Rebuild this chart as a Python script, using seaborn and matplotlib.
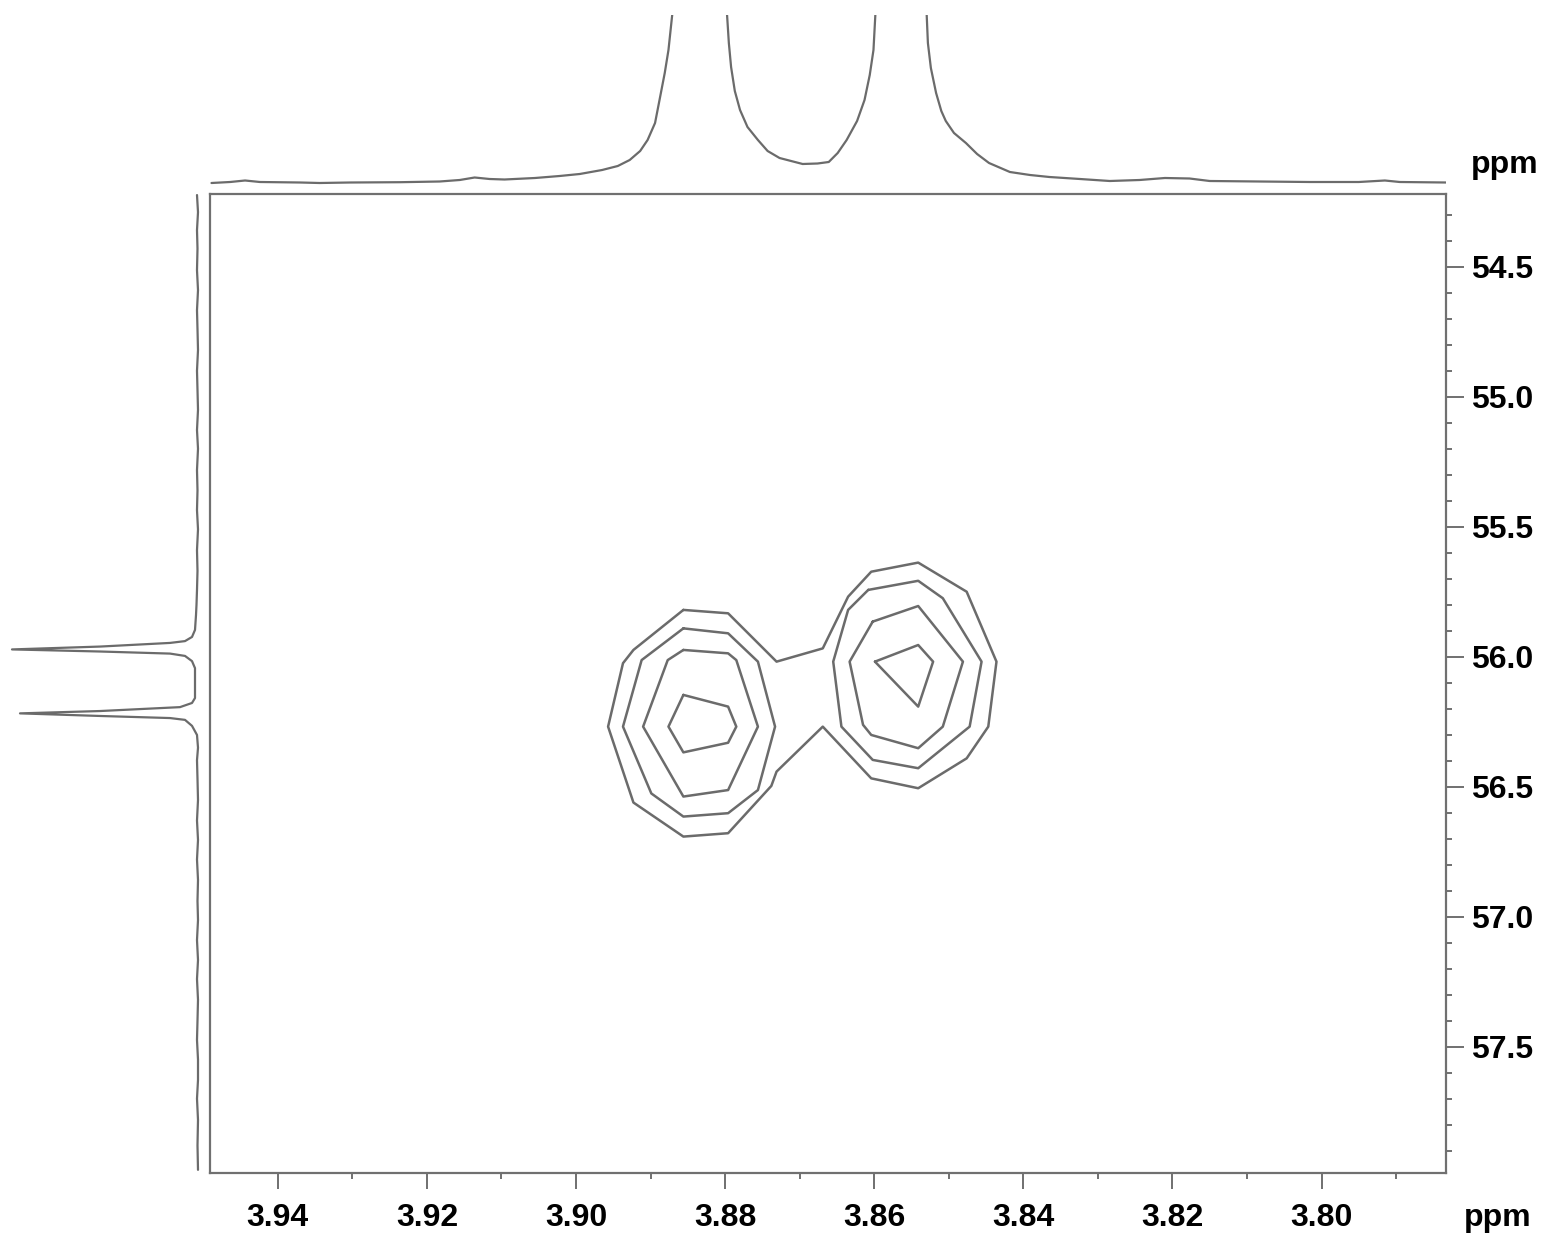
import numpy as np
import matplotlib
matplotlib.use("Agg")
import matplotlib.pyplot as plt
from matplotlib.ticker import MultipleLocator, FormatStrFormatter
import seaborn as sns

sns.set_style("white")
plt.rcParams["font.family"] = ["Liberation Sans", "DejaVu Sans"]

# --- data (ppm) ---

# 1H projection on top: chemical shift and height (arbitrary units)
top_ppm = [3.9489, 3.9464, 3.9444, 3.9424, 3.9370, 3.9344, 3.9303, 3.9236, 3.9183,
           3.9156, 3.9136, 3.9116, 3.9096, 3.9055, 3.9022, 3.8995, 3.8965, 3.8944,
           3.8928, 3.8914, 3.8904, 3.8894, 3.8888, 3.8881, 3.8876, 3.8870, 3.8834,
           3.8798, 3.8795, 3.8792, 3.8787, 3.8780, 3.8770, 3.8756, 3.8743, 3.8727,
           3.8696, 3.8676, 3.8661, 3.8649, 3.8637, 3.8623, 3.8613, 3.8606, 3.8601,
           3.8598, 3.8564, 3.8530, 3.8528, 3.8524, 3.8517, 3.8510, 3.8504, 3.8493,
           3.8477, 3.8462, 3.8446, 3.8418, 3.8391, 3.8365, 3.8324, 3.8284, 3.8244,
           3.8210, 3.8177, 3.8150, 3.8083, 3.8016, 3.7950, 3.7915, 3.7895, 3.7833]
top_int = [0, 1, 2.5, 1, 0.5, 0, 0.5, 0.8, 1.5,
           3, 5.5, 4, 3.5, 5, 7, 9, 13, 17,
           23, 32, 43, 60, 83, 110, 133, 175, 400,
           175, 140, 116, 92, 73, 56, 43, 32, 25,
           19, 19.5, 21, 30, 43, 62, 83, 108, 133,
           175, 400, 175, 140, 115, 90, 72, 62, 50,
           40, 29, 20, 11, 8, 6, 4, 2, 3,
           5, 4.5, 2, 1.5, 1, 1, 2.5, 1, 0.5]

# 13C projection on the left: chemical shift and height
left_ppm = [54.224, 54.290, 54.359, 54.430, 54.513, 54.590, 54.667, 54.740, 54.820,
            54.900, 54.974, 55.050, 55.128, 55.200, 55.282, 55.360, 55.436, 55.510,
            55.590, 55.670, 55.743, 55.800, 55.840, 55.897, 55.924, 55.940, 55.947,
            55.961, 55.972, 55.980, 55.988, 55.997, 56.017, 56.044, 56.100, 56.159,
            56.178, 56.194, 56.209, 56.218, 56.228, 56.236, 56.243, 56.266, 56.301,
            56.350, 56.398, 56.470, 56.551, 56.630, 56.705, 56.780, 56.859, 56.940,
            57.013, 57.090, 57.167, 57.240, 57.320, 57.400, 57.474, 57.550, 57.628,
            57.700, 57.782, 57.880, 57.974]
left_int = [1, 0, 1, 0.5, 1, 0, 1, 0.5, 0,
            1, 0.5, 0, 1, 0, 1, 0.5, 1, 0,
            1, 0.5, 1, 1.5, 2, 3, 6, 13, 28,
            98, 186, 98, 28, 13, 6, 3, 3, 3,
            6, 18, 98, 178, 98, 28, 13, 6, 1,
            0, 1, 0.5, 0, 1, 0, 1, 0, 0.5,
            0, 1, 0, 1, 0, 0.5, 1, 0, 0,
            1, 0, 0.5, 0]

# HSQC contour lines (1H ppm, 13C ppm)
outer_h = [3.8856, 3.8796, 3.8731, 3.8669, 3.8635, 3.8604, 3.8541, 3.8476, 3.8436,
           3.8447, 3.8476, 3.8541, 3.8604, 3.8669, 3.8731, 3.8738, 3.8796, 3.8856,
           3.8923, 3.8957, 3.8937, 3.8923]
outer_c = [55.820, 55.833, 56.019, 55.968, 55.769, 55.673, 55.638, 55.750, 56.019,
           56.269, 56.391, 56.506, 56.468, 56.269, 56.442, 56.497, 56.679, 56.692,
           56.561, 56.269, 56.025, 55.974]
left2_h = [3.8856, 3.8796, 3.8756, 3.8733, 3.8756, 3.8796, 3.8856, 3.8899, 3.8937, 3.8912]
left2_c = [55.891, 55.910, 56.019, 56.269, 56.513, 56.602, 56.615, 56.526, 56.269, 56.013]
left3_h = [3.8856, 3.8796, 3.8785, 3.8756, 3.8796, 3.8856, 3.8910, 3.8877]
left3_c = [55.974, 55.987, 56.013, 56.269, 56.513, 56.538, 56.269, 56.013]
left4_h = [3.8856, 3.8796, 3.8785, 3.8796, 3.8856, 3.8876]
left4_c = [56.147, 56.192, 56.269, 56.331, 56.368, 56.269]
right2_h = [3.8608, 3.8541, 3.8508, 3.8456, 3.8472, 3.8541, 3.8602, 3.8644, 3.8655, 3.8635]
right2_c = [55.743, 55.708, 55.775, 56.019, 56.269, 56.429, 56.397, 56.269, 56.019, 55.820]
right3_h = [3.8602, 3.8541, 3.8481, 3.8508, 3.8541, 3.8604, 3.8615, 3.8633]
right3_c = [55.865, 55.805, 56.019, 56.269, 56.352, 56.301, 56.262, 56.019]
right4_h = [3.8599, 3.8541, 3.8521, 3.8541]
right4_c = [56.019, 55.955, 56.019, 56.192]

contours = [(outer_h, outer_c), (left2_h, left2_c), (left3_h, left3_c), (left4_h, left4_c),
            (right2_h, right2_c), (right3_h, right3_c), (right4_h, right4_c)]

x_lim = (3.9491, 3.7833)
y_lim = (57.985, 54.22)

line_col = "#6b6b6b"
frame_col = "#707070"

fig = plt.figure(figsize=(15.46, 12.40), dpi=100)
W, H = 1546, 1240
ax = fig.add_axes([210 / W, 1 - 1172.7 / H, (1446 - 210) / W, (1172.7 - 194) / H])
ax_top = fig.add_axes([210 / W, 1 - 190 / H, (1446 - 210) / W, (190 - 15) / H])
ax_left = fig.add_axes([5 / W, 1 - 1172.7 / H, 200 / W, (1172.7 - 194) / H])

# contour plot
for xs, ys in contours:
    xs = list(xs) + [xs[0]]
    ys = list(ys) + [ys[0]]
    sns.lineplot(x=xs, y=ys, sort=False, estimator=None, color=line_col, lw=1.8, ax=ax)

ax.set_xlim(*x_lim)
ax.set_ylim(*y_lim)
for s in ax.spines.values():
    s.set_color(frame_col)
    s.set_linewidth(1.6)
ax.xaxis.set_major_locator(MultipleLocator(0.02))
ax.xaxis.set_minor_locator(MultipleLocator(0.01))
ax.xaxis.set_major_formatter(FormatStrFormatter("%.2f"))
ax.yaxis.set_major_locator(MultipleLocator(0.5))
ax.yaxis.set_minor_locator(MultipleLocator(0.1))
ax.yaxis.set_major_formatter(FormatStrFormatter("%.1f"))
ax.yaxis.tick_right()
ax.tick_params(axis="both", which="both", direction="out", color=frame_col, width=1.4,
               labelcolor="black")
ax.tick_params(axis="x", which="major", length=11.5, labelsize=23, pad=10)
ax.tick_params(axis="y", which="major", length=13, labelsize=23, pad=5)
ax.tick_params(axis="both", which="minor", length=4)
ax.tick_params(axis="x", which="both", bottom=True, top=False)
ax.tick_params(axis="y", which="both", right=True, left=False, labelright=True, labelleft=False)
for lab in ax.get_xticklabels() + ax.get_yticklabels():
    lab.set_fontweight("bold")
ax.set_xlabel("")
ax.set_ylabel("")

# top projection
sns.lineplot(x=top_ppm, y=top_int, sort=False, estimator=None, color=line_col, lw=1.6, ax=ax_top)
ax_top.set_xlim(*x_lim)
ax_top.set_ylim(-7, 168)
ax_top.axis("off")

# left projection
sns.lineplot(x=left_int, y=left_ppm, sort=False, estimator=None, color=line_col, lw=1.6,
             orient="y", ax=ax_left)
ax_left.set_xlim(193, -7)
ax_left.set_ylim(*y_lim)
ax_left.axis("off")

fig.text(1498 / W, 1 - 1218 / H, "ppm", ha="center", va="center", fontsize=23,
         fontweight="bold", color="black")
fig.text(1505 / W, 1 - 165 / H, "ppm", ha="center", va="center", fontsize=23,
         fontweight="bold", color="black")

fig.savefig("out.png", dpi=100)
